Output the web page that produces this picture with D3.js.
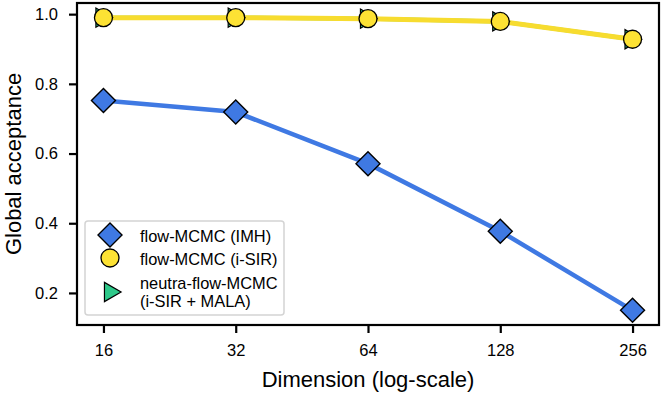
<!DOCTYPE html>
<html><head><meta charset="utf-8">
<script src="https://cdn.jsdelivr.net/npm/d3@7"></script>
<style>body{margin:0;background:#fff}svg{font-family:"Liberation Sans",Arial,sans-serif}</style>
</head><body>
<script>
const dims = [16, 32, 64, 128, 256];
const imh = [0.752, 0.719, 0.571, 0.377, 0.150];
const isir = [0.990, 0.990, 0.987, 0.979, 0.928];
const neutra = [0.990, 0.990, 0.987, 0.979, 0.928];
const yTicks = [0.2, 0.4, 0.6, 0.8, 1.0];

const W = 665, H = 395;
const L = 77, R = 659, T = 3, B = 325;
const svg = d3.select("body").append("svg").attr("width", W).attr("height", H);
const x = d3.scaleLog().base(2).domain([16 / Math.pow(2, 0.2), 256 * Math.pow(2, 0.2)]).range([L, R]);
const y = d3.scaleLinear().domain([0.108, 1.032]).range([B, T]);

// axes
const xa = svg.append("g").attr("transform", `translate(0,${B})`)
  .call(d3.axisBottom(x).tickValues(dims).tickFormat(d3.format("d")).tickSize(8).tickPadding(11));
const ya = svg.append("g").attr("transform", `translate(${L},0)`)
  .call(d3.axisLeft(y).tickValues(yTicks).tickFormat(d3.format(".1f")).tickSize(8).tickPadding(11));
[xa, ya].forEach(a => {
  a.select(".domain").remove();
  a.selectAll(".tick line").attr("stroke", "#000").attr("stroke-width", 2.2);
  a.selectAll(".tick text").attr("font-size", 16.5).attr("fill", "#000").attr("font-family", "Liberation Sans, Arial, sans-serif");
});

const line = d3.line().x((d, i) => x(dims[i])).y(d => y(d));

// neutra (under)
svg.append("path").datum(neutra).attr("d", line).attr("fill", "none").attr("stroke", "#2ec98a").attr("stroke-width", 4);
// isir line
svg.append("path").datum(isir).attr("d", line).attr("fill", "none").attr("stroke", "#f7dc2f").attr("stroke-width", 5);
// imh line
svg.append("path").datum(imh).attr("d", line).attr("fill", "none").attr("stroke", "#3f79e3").attr("stroke-width", 4.5);

const tri = d3.symbol().type(d3.symbolTriangle).size(160)();
svg.selectAll(".tri").data(neutra).enter().append("path")
  .attr("d", tri).attr("transform", (d, i) => `translate(${x(dims[i]) - 2},${y(d)}) rotate(90)`)
  .attr("fill", "#2ec98a").attr("stroke", "#000").attr("stroke-width", 1.2);
svg.selectAll(".circ").data(isir).enter().append("circle")
  .attr("cx", (d, i) => x(dims[i])).attr("cy", d => y(d)).attr("r", 9)
  .attr("fill", "#fde234").attr("stroke", "#000").attr("stroke-width", 1.3);
const dia = "M0,-12L12,0L0,12L-12,0Z";
svg.selectAll(".dia").data(imh).enter().append("path")
  .attr("d", dia).attr("transform", (d, i) => `translate(${x(dims[i])},${y(d)})`)
  .attr("fill", "#3f79e3").attr("stroke", "#000").attr("stroke-width", 1.4);

// frame
svg.append("rect").attr("x", L).attr("y", T).attr("width", R - L).attr("height", B - T)
  .attr("fill", "none").attr("stroke", "#000").attr("stroke-width", 2.2);

// legend
const lg = svg.append("g");
lg.append("rect").attr("x", 85).attr("y", 221).attr("width", 199).attr("height", 94).attr("rx", 3)
  .attr("fill", "#fff").attr("fill-opacity", 0.8).attr("stroke", "#d4d4d4").attr("stroke-width", 1.5);
lg.append("path").attr("d", dia).attr("transform", "translate(110,235)")
  .attr("fill", "#3f79e3").attr("stroke", "#000").attr("stroke-width", 1.4);
lg.append("circle").attr("cx", 110).attr("cy", 258).attr("r", 9)
  .attr("fill", "#fde234").attr("stroke", "#000").attr("stroke-width", 1.3);
lg.append("path").attr("d", tri).attr("transform", "translate(110,292) rotate(90)")
  .attr("fill", "#2ec98a").attr("stroke", "#000").attr("stroke-width", 1.2);
const lt = [["flow-MCMC (IMH)", 241.5], ["flow-MCMC (i-SIR)", 265], ["neutra-flow-MCMC", 289], ["(i-SIR + MALA)", 306.5]];
lt.forEach(([t, yy]) => lg.append("text").attr("x", 140).attr("y", yy).attr("font-size", 16.4).text(t));

// axis labels
svg.append("text").attr("x", (L + R) / 2).attr("y", 387).attr("text-anchor", "middle").attr("font-size", 22).text("Dimension (log-scale)");
svg.append("text").attr("transform", `translate(21,${(T + B) / 2}) rotate(-90)`).attr("text-anchor", "middle").attr("font-size", 22).text("Global acceptance");
</script>
</body></html>
